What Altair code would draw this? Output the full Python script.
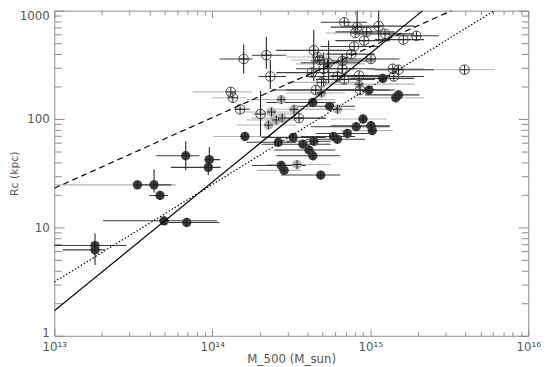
import altair as alt
import pandas as pd

# ---------------- data (mass in units of 1e14 M_sun, Rc in kpc) ----------------
# group A: dark filled symbols
A_M = [0.181, 0.181, 0.336, 0.428, 0.467, 0.495, 0.689, 0.679, 0.958, 0.944,
       1.61, 2.62, 2.73, 2.85, 3.25, 3.75, 4.09, 4.33, 4.39, 4.33,
       4.86, 5.53, 5.85, 6.20, 7.16, 8.15, 9.0, 10.1, 10.3, 9.8,
       12.0, 14.5, 15.1]
A_R = [6.2, 6.8, 24.7, 24.7, 19.7, 11.5, 11.1, 45.8, 42.2, 35.8,
       69, 61, 37.3, 33.6, 67.7, 58.6, 51.8, 45.8, 62.3, 142,
       30.4, 131, 69, 65, 73.5, 84.9, 100, 86.6, 78.2, 185,
       237, 157, 167]
A_Mlo = [0.113, 0.100, 0.100, 0.36, 0.399, 0.203, 0.524, 0.441, 0.89, 0.547,
         1.01, 1.65, 1.78, 1.91, 2.05, 2.05, 2.47, 2.54, 2.94, 2.20,
         2.73, 3.39, 3.64, 3.91, 4.52, 4.21, 5.61, 5.61, 6.47, 2.94,
         7.47, 8.03, 9.27]
A_Mhi = [0.209, 0.286, 0.588, 0.55, 0.524, 1.07, 1.11, 0.83, 1.12, 1.13,
         2.37, 3.39, 3.91, 3.64, 5.22, 5.61, 6.02, 6.47, 5.61, 6.02,
         6.47, 8.03, 8.03, 9.27, 9.96, 13.3, 12.7, 13.3, 13.9, 13.3,
         19.0, 21.9, 20.4]
A_Rlo = [4.5, 6.8, None, 21, None, None, None, 33.6, 42.2, 30.4] + [None] * 23
A_Rhi = [6.2, 8.8, None, 34.3, None, None, None, 62.3, 55.1, 35.8] + [None] * 23
A_bar = ["d", "d", "g", "d", "d", "d", "d", "d", "d", "d",
         "g", "d", "d", "g", "d", "d", "d", "d", "d", "d",
         "d", "d", "d", "d", "d", "d", "g", "d", "g", "d",
         "d", "g", "d"]

# group B: light grey filled symbols
B_M = [2.37, 2.27, 2.54, 2.73, 3.29, 2.77, 6.20, 3.44, 8.5, 5.37, 4.92]
B_R = [116, 88, 98, 151, 123, 102, 123, 38, 210, 323, 174]
B_Mlo = [1.54, 1.43, 1.65, 1.65, 2.20, 1.78, 3.64, 2.20, 5.22, 3.39, 2.94]
B_Mhi = [3.39, 3.39, 3.64, 6.02, 5.22, 5.22, 8.03, 5.61, 19.0, 9.27, 6.95]

# group C: open symbols
C_M = [1.58, 2.20, 2.33, 1.31, 1.35, 1.50, 2.02, 3.54, 4.39, 4.65,
       4.79, 5.45, 6.66, 6.85, 8.26, 11.3, 8.03, 9.5, 12.4, 9.14,
       16.2, 19.6, 7.91, 7.58, 10.1, 5.07, 6.66, 4.27, 6.20, 6.85,
       8.5, 4.92, 4.52, 8.63, 13.9, 15.1, 14.1, 39.5]
C_R = [358, 388, 247, 178, 157, 123, 111, 102, 430, 373,
       351, 330, 343, 782, 705, 720, 623, 637, 611, 529,
       540, 586, 467, 397, 358, 291, 291, 268, 247, 232,
       252, 218, 185, 185, 291, 285, 247, 285]
C_Mlo = [1.11, 1.78, 1.96, 0.75, 1.0, 1.39, 1.78, 2.37, 2.54, 2.94,
         3.16, 3.64, 4.21, 4.86, 5.61, 6.95, 5.22, 6.02, 8.03, 6.02,
         10.7, 13.3, 4.86, 5.22, 6.47, 3.39, 4.52, 2.54, 3.91, 4.52,
         5.61, 2.94, 2.37, 5.22, 9.53, 10.7, 9.27, 9.53]
C_Mhi = [1.80, 2.94, 2.94, 1.78, 1.65, 1.73, 3.39, 5.22, 8.03, 6.95,
         6.47, 8.63, 10.7, 9.53, 11.5, 19.0, 14.3, 14.3, 19.0, 13.3,
         21.9, 27.2, 11.5, 10.7, 15.3, 8.03, 10.7, 6.47, 9.96, 10.7,
         13.3, 8.03, 8.03, 14.3, 21.9, 25.3, 21.9, 61.7]
C_Rlo = [263, 291, 189, None, None, None, 69, None, 223, None,
         None, 214, 263, None, 705, 529, None, None, None, None,
         None, None, None, None, None, 201, 263, None, None, None,
         None, None, None, None, None, None, None, None]
C_Rhi = [487, 574, 351, None, None, None, 182, None, 663, None,
         None, 529, 397, None, 1200, 1200, None, None, None, None,
         None, None, None, None, None, 413, 397, None, None, None,
         None, None, None, None, None, None, None, None]
C_bar = ["d", "d", "d", "g", "g", "d", "g", "d", "d", "g",
         "g", "d", "d", "d", "d", "d", "g", "d", "d", "d",
         "d", "d", "d", "d", "d", "d", "d", "d", "d", "d",
         "d", "g", "d", "d", "g", "d", "d", "g"]

# fitted relations: end points
SOLID_M = [1e13, 2.15e15]
SOLID_R = [1.7, 1000]
DASH_M = [1e13, 3.27e15]
DASH_R = [23, 1000]
DOT_M = [1e13, 6.1e15]
DOT_R = [3.14, 1000]

X_MAJOR = [1e13, 1e14, 1e15, 1e16]
X_MINOR = [k * 10.0 ** e for e in (13, 14, 15) for k in range(2, 10)]
Y_MAJOR = [1, 10, 100, 1000]
Y_MINOR = [k * 10.0 ** e for e in (0, 1, 2) for k in range(2, 10)]

# ---------------- tables ----------------
rows = []
for g, Ms, Rs, Lo, Hi, RL, RH, bars in [
    ("A", A_M, A_R, A_Mlo, A_Mhi, A_Rlo, A_Rhi, A_bar),
    ("B", B_M, B_R, B_Mlo, B_Mhi, [None] * len(B_M), [None] * len(B_M), ["g"] * len(B_M)),
    ("C", C_M, C_R, C_Mlo, C_Mhi, C_Rlo, C_Rhi, C_bar),
]:
    for i in range(len(Ms)):
        rows.append(dict(group=g, M=Ms[i] * 1e14, R=Rs[i], Mlo=Lo[i] * 1e14,
                         Mhi=Hi[i] * 1e14, Rlo=RL[i], Rhi=RH[i], bar=bars[i]))
df = pd.DataFrame(rows)
df_h = pd.concat([df[df.bar == "g"], df[df.bar == "d"]])
df_v = df.dropna(subset=["Rlo"])
df_f = df[df.group != "C"]
df_o = df[df.group == "C"]

xs = alt.Scale(type="log", domain=[1e13, 1e16])
ys = alt.Scale(type="log", domain=[1, 1000])

TICK = "#8c8c8c"
TXT = "#555555"

def xaxis(orient, values, size, labels=False, title=None):
    kw = dict(orient=orient, values=values, tickSize=size, offset=-size,
              domain=False, grid=False, labels=labels, tickColor=TICK,
              labelFlush=False, labelOverlap=False)
    if labels:
        kw.update(labelExpr="'10' + ['¹³','¹⁴','¹⁵','¹⁶'][round(log(datum.value)/LN10) - 13]",
                  labelPadding=6, labelFontSize=12, labelColor=TXT, labelFont="DejaVu Sans")
    if title:
        kw.update(title=title, titlePadding=1, titleFontSize=12, titleColor=TXT,
                  titleFont="DejaVu Sans", titleFontWeight="normal")
    else:
        kw.update(title=None)
    return alt.Axis(**kw)

def yaxis(orient, values, size, labels=False, title=None):
    kw = dict(orient=orient, values=values, tickSize=size, offset=-size,
              domain=False, grid=False, labels=labels, tickColor=TICK,
              labelFlush=False, labelOverlap=False)
    if labels:
        kw.update(format="d", labelPadding=5, labelFontSize=12, labelColor=TXT,
                  labelFont="DejaVu Sans",
                  labelBaseline=alt.condition("datum.value >= 1000", alt.value("top"), alt.value("middle")),
                  labelOffset=alt.condition("datum.value <= 1", alt.value(-3), alt.value(0)))
    if title:
        kw.update(title=title, titlePadding=0, titleFontSize=11, titleColor=TXT,
                  titleFont="DejaVu Sans", titleFontWeight="normal")
    else:
        kw.update(title=None)
    return alt.Axis(**kw)

hbars = alt.Chart(df_h).mark_rule(strokeWidth=1.1, clip=True).encode(
    x=alt.X("Mlo:Q", scale=xs, axis=xaxis("bottom", X_MAJOR, 7, labels=True, title="M_500 (M_sun)")),
    x2="Mhi:Q",
    y=alt.Y("R:Q", scale=ys, axis=yaxis("left", Y_MAJOR, 10, labels=True, title="Rc (kpc)")),
    color=alt.Color("bar:N", scale=alt.Scale(domain=["d", "g"], range=["#3c3c3c", "#b4b4b4"]), legend=None),
)

vbars = alt.Chart(df_v).mark_rule(strokeWidth=1.1, color="#222222", clip=True).encode(
    x=alt.X("M:Q", scale=xs, axis=xaxis("bottom", X_MINOR, 4)),
    y=alt.Y("Rlo:Q", scale=ys, axis=yaxis("left", Y_MINOR, 7)),
    y2="Rhi:Q",
)

filled = alt.Chart(df_f).mark_circle(size=90, opacity=1).encode(
    x=alt.X("M:Q", scale=xs, axis=xaxis("top", X_MAJOR, 7)),
    y=alt.Y("R:Q", scale=ys, axis=yaxis("right", Y_MAJOR, 10)),
    color=alt.Color("group:N", scale=alt.Scale(domain=["A", "B"], range=["#333333", "#acacac"]), legend=None),
)

openp = alt.Chart(df_o).mark_point(size=95, filled=False, color="#444444", strokeWidth=1, opacity=1).encode(
    x=alt.X("M:Q", scale=xs, axis=xaxis("top", X_MINOR, 4)),
    y=alt.Y("R:Q", scale=ys, axis=yaxis("right", Y_MINOR, 7)),
)

cross = alt.Chart(df).mark_point(shape="M0,-1L0,1M-1,0L1,0", size=80, filled=False,
                                 color="#1e1e1e", strokeWidth=1, opacity=1).encode(
    x=alt.X("M:Q", scale=xs, axis=None),
    y=alt.Y("R:Q", scale=ys, axis=None),
)

def fit_line(Ms, Rs, dash):
    d = pd.DataFrame({"M": Ms, "R": Rs})
    kw = dict(color="black", strokeWidth=1.2, clip=True)
    if dash:
        kw["strokeDash"] = dash
    return alt.Chart(d).mark_line(**kw).encode(
        x=alt.X("M:Q", scale=xs, axis=None),
        y=alt.Y("R:Q", scale=ys, axis=None),
    )

solid = fit_line(SOLID_M, SOLID_R, None)
dashed = fit_line(DASH_M, DASH_R, [6, 4])
dotted = fit_line(DOT_M, DOT_R, [1.5, 2])

chart = (
    alt.layer(hbars, vbars, filled, openp, cross, solid, dashed, dotted)
    .resolve_axis(x="independent", y="independent")
    .properties(width=481, height=330,
                padding={"left": 47, "top": 0, "right": 15, "bottom": 29},
                autosize=alt.AutoSizeParams(type="none"),
                background="white")
    .configure_view(stroke="#8c8c8c", strokeWidth=1)
)

chart.save("out.html", embed_options={"renderer": "svg", "actions": False})
